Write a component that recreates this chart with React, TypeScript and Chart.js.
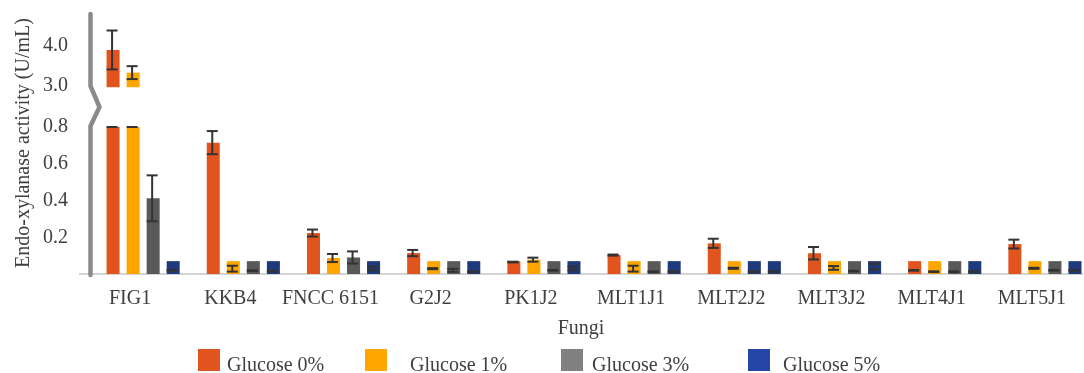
import { useEffect, useRef } from "react";
import { Chart, registerables } from "chart.js";

Chart.register(...registerables);

// Fungal isolates on the category axis
const fungi = ["FIG1", "KKB4", "FNCC 6151", "G2J2", "PK1J2", "MLT1J1", "MLT2J2", "MLT3J2", "MLT4J1", "MLT5J1"];

const seriesNames = ["Glucose 0%", "Glucose 1%", "Glucose 3%", "Glucose 5%"];

// Mean endo-xylanase activity (U/mL) and its error, per glucose level
const glucose0 = [3.89, 0.715, 0.223, 0.114, 0.065, 0.103, 0.167, 0.113, 0.02, 0.163];
const glucose0Err = [0.48, 0.063, 0.019, 0.017, 0.002, 0.003, 0.025, 0.034, 0.002, 0.024];

const glucose1 = [3.33, 0.029, 0.087, 0.029, 0.078, 0.029, 0.031, 0.033, 0.0125, 0.031];
const glucose1Err = [0.16, 0.016, 0.022, 0.003, 0.011, 0.016, 0.003, 0.01, 0.002, 0.003];

const glucose3 = [0.412, 0.018, 0.09, 0.02, 0.02, 0.0125, 0.0125, 0.016, 0.0125, 0.02];
const glucose3Err = [0.125, 0.002, 0.033, 0.008, 0.002, 0.002, 0.002, 0.002, 0.002, 0.002];

const glucose5 = [0.02, 0.015, 0.03, 0.0125, 0.03, 0.0125, 0.0125, 0.04, 0.0125, 0.02];
const glucose5Err = [0.002, 0.002, 0.01, 0.002, 0.01, 0.002, 0.002, 0.017, 0.002, 0.002];

// Tick labels of the two segments of the broken value axis
const lowerTicks = [0.2, 0.4, 0.6, 0.8];
const upperTicks = [3.0, 4.0];

// Broken-axis settings
const LOWER_CLIP = 0.8; // bars above this continue in the upper segment
const UPPER_BASE = 2.97; // where the upper segment of a tall bar begins
const MIN_VISIBLE = 0.07; // very small means are still drawn as a short bar
const GROUP_SHIFT = 0.13; // bar clusters sit slightly right of their label

const barColors = ["#E2541E", "#FFA500", "#595959", "#1F3A7C"];
const legendColors = ["#E2541E", "#FFA500", "#808080", "#2446A6"];
const barColorOverrides = [{ series: 2, category: 6, color: "#1F3A7C" }];

const TEXT = "#404040";
const ERR = "#333333";
const FONT = { family: "'Liberation Serif', 'Times New Roman', serif", size: 20 };

const series = [
  { label: seriesNames[0], means: glucose0, errs: glucose0Err },
  { label: seriesNames[1], means: glucose1, errs: glucose1Err },
  { label: seriesNames[2], means: glucose3, errs: glucose3Err },
  { label: seriesNames[3], means: glucose5, errs: glucose5Err },
];

const colorFor = (k: number, i: number) => {
  const o = barColorOverrides.find((c) => c.series === k && c.category === i);
  return o ? o.color : barColors[k];
};

const lowerSets = series.map((s, k) => ({
  label: s.label,
  type: "bar" as const,
  xAxisID: "xb",
  yAxisID: "y",
  stack: "g" + k,
  data: s.means.map((m, i) => ({ x: i, y: Math.min(Math.max(m, MIN_VISIBLE), LOWER_CLIP) })),
  backgroundColor: (ctx: any) => colorFor(k, ctx.dataIndex),
  barPercentage: 0.65,
  categoryPercentage: 0.8,
}));

const upperSets = series.map((s, k) => ({
  label: s.label + " (upper)",
  type: "bar" as const,
  xAxisID: "xb",
  yAxisID: "y2",
  stack: "g" + k,
  data: s.means.flatMap((m, i) => (m > LOWER_CLIP ? [{ x: i, y: [UPPER_BASE, m] }] : [])),
  backgroundColor: barColors[k],
  barPercentage: 0.65,
  categoryPercentage: 0.8,
}));

// Error bars, caps where tall bars are cut, the broken y-axis line, axis title and legend
const decorations = {
  id: "decorations",
  afterDatasetsDraw(chart: any) {
    const { ctx, chartArea } = chart;
    const yLow = chart.scales.y;
    const yHigh = chart.scales.y2;
    const half = 5.5;
    ctx.save();
    ctx.strokeStyle = ERR;
    ctx.lineWidth = 2;
    const hLine = (x: number, y: number) => {
      ctx.beginPath();
      ctx.moveTo(x - half, y);
      ctx.lineTo(x + half, y);
      ctx.stroke();
    };
    series.forEach((s, k) => {
      const meta = chart.getDatasetMeta(k);
      s.means.forEach((m, i) => {
        const bar = meta.data[i];
        if (!bar) return;
        const x = bar.x - 1;
        const e = s.errs[i];
        const sc = m > LOWER_CLIP ? yHigh : yLow;
        const top = sc.getPixelForValue(m + e);
        const bot = sc.getPixelForValue(Math.max(m - e, 0));
        ctx.beginPath();
        ctx.moveTo(x, top);
        ctx.lineTo(x, bot);
        ctx.stroke();
        hLine(x, top);
        hLine(x, bot);
        if (m > LOWER_CLIP) hLine(x, yLow.getPixelForValue(LOWER_CLIP));
      });
    });
    ctx.restore();

    // broken value axis
    const ax = chartArea.left + 10.5;
    const brk = yHigh.bottom;
    ctx.save();
    ctx.strokeStyle = "#8A8A8A";
    ctx.lineWidth = 4.5;
    ctx.lineCap = "round";
    ctx.lineJoin = "miter";
    ctx.beginPath();
    ctx.moveTo(ax, chartArea.top + 2);
    ctx.lineTo(ax, brk - 21);
    ctx.lineTo(ax + 9, brk);
    ctx.lineTo(ax, brk + 19);
    ctx.lineTo(ax, chartArea.bottom + 1);
    ctx.stroke();
    ctx.restore();

    // value axis title
    ctx.save();
    ctx.fillStyle = TEXT;
    ctx.font = `${FONT.size}px ${FONT.family}`;
    ctx.textAlign = "center";
    ctx.textBaseline = "middle";
    ctx.translate(23.5, (chartArea.top + chartArea.bottom) / 2);
    ctx.rotate(-Math.PI / 2);
    ctx.fillText("Endo-xylanase activity (U/mL)", 0, 0);
    ctx.restore();

    // legend
    const boxX = [198, 365, 561, 748];
    const textX = [227, 410, 592, 783];
    ctx.save();
    ctx.font = `${FONT.size}px ${FONT.family}`;
    ctx.textAlign = "left";
    ctx.textBaseline = "alphabetic";
    seriesNames.forEach((name, k) => {
      ctx.fillStyle = legendColors[k];
      ctx.fillRect(boxX[k], 349, 22, 22);
      ctx.fillStyle = TEXT;
      ctx.fillText(name, textX[k], 370.5);
    });
    ctx.restore();
  },
};

const fmt = (v: any) => Number(v).toFixed(1);

// Value-axis segments: fixed width, and no extra room reserved for edge labels
const fitValueAxis = (s: any) => {
  s.width = 80;
  s.paddingTop = 0;
  s.paddingBottom = 0;
};

export default function App() {
  const ref = useRef<HTMLCanvasElement>(null);

  useEffect(() => {
    if (!ref.current) return;
    const chart = new Chart(ref.current, {
      type: "bar",
      data: { labels: fungi, datasets: [...lowerSets, ...upperSets] as any },
      options: {
        animation: false,
        responsive: true,
        maintainAspectRatio: false,
        events: [],
        layout: { padding: { top: 12, right: 2, bottom: 0, left: 0 } },
        plugins: { legend: { display: false }, tooltip: { enabled: false } },
        scales: {
          x: {
            type: "category",
            axis: "x",
            position: "bottom",
            offset: true,
            grid: { display: false, drawTicks: false },
            border: { display: true, color: "#D4D4D4", width: 2 },
            ticks: { font: FONT, color: TEXT, padding: 13, maxRotation: 0, autoSkip: false },
            title: { display: true, text: "Fungi", font: FONT, color: TEXT, padding: { top: 0, bottom: 32 } },
            afterFit: (s: any) => {
              s.height = 99;
              s.paddingLeft = 0;
              s.paddingRight = 0;
            },
          },
          // hidden numeric axis that places each cluster of bars
          xb: {
            type: "linear",
            axis: "x",
            position: "bottom",
            display: false,
            offset: false,
            min: -0.5 - GROUP_SHIFT,
            max: fungi.length - 0.5 - GROUP_SHIFT,
            afterBuildTicks: (s: any) => {
              s.ticks = fungi.map((_, i) => ({ value: i }));
            },
          },
          y: {
            type: "linear",
            axis: "y",
            position: "left",
            stack: "activity",
            stackWeight: 167,
            stacked: false,
            beginAtZero: false,
            min: 0,
            max: 0.909,
            grid: { display: false, drawTicks: false },
            border: { display: false },
            ticks: { font: FONT, color: TEXT, padding: 12, callback: fmt },
            afterBuildTicks: (s: any) => {
              s.ticks = lowerTicks.map((v) => ({ value: v }));
            },
            afterFit: fitValueAxis,
          },
          y2: {
            type: "linear",
            axis: "y",
            position: "left",
            stack: "activity",
            stackWeight: 95,
            stacked: false,
            beginAtZero: false,
            min: 2.4815,
            max: 4.827,
            grid: { display: false, drawTicks: false },
            border: { display: false },
            ticks: { font: FONT, color: TEXT, padding: 12, callback: fmt },
            afterBuildTicks: (s: any) => {
              s.ticks = upperTicks.map((v) => ({ value: v }));
            },
            afterFit: fitValueAxis,
          },
        } as any,
      },
      plugins: [decorations],
    });
    return () => chart.destroy();
  }, []);

  return (
    <div style={{ position: "fixed", left: 0, top: 0, width: 1084, height: 373, background: "#fff" }}>
      <canvas ref={ref} />
    </div>
  );
}
